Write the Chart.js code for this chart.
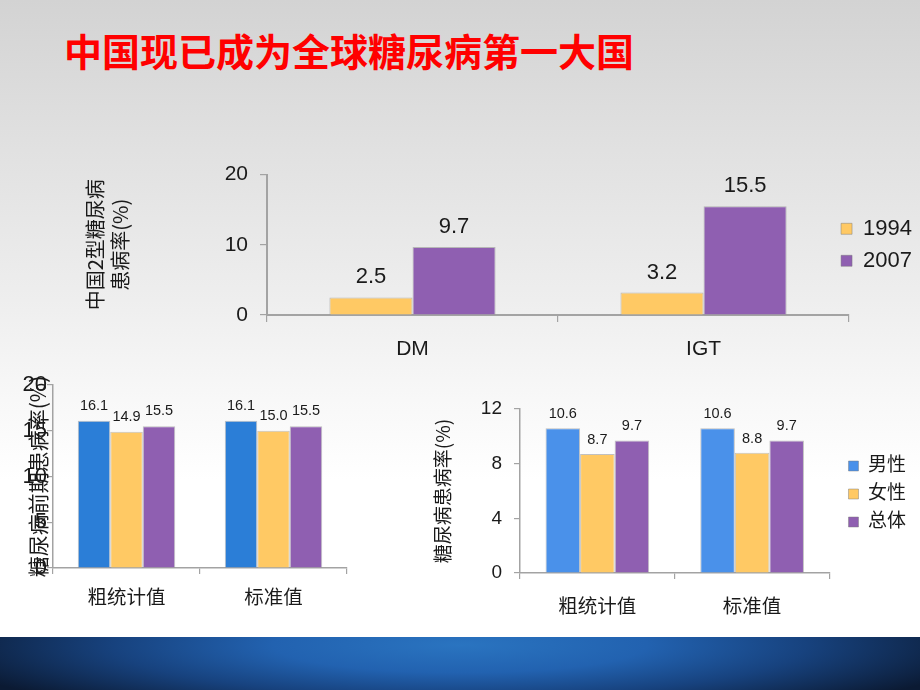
<!DOCTYPE html>
<html>
<head>
<meta charset="utf-8">
<script src="https://cdn.jsdelivr.net/npm/chart.js@4.4.0/dist/chart.umd.min.js"></script>
<style>
html,body{margin:0;padding:0;width:920px;height:690px;overflow:hidden;}
body{position:relative;background:linear-gradient(180deg,#d3d3d3 0px,#e1e1e1 150px,#eeeeee 300px,#f8f8f8 400px,#ffffff 480px,#ffffff 690px);}
#title{position:absolute;left:64px;top:31px;font-family:'Noto Sans CJK SC',sans-serif;font-weight:700;font-size:38px;line-height:38px;color:#ff0000;white-space:nowrap;}
#band{position:absolute;left:0;top:637px;width:920px;height:53px;
 background:radial-gradient(ellipse 58% 150% at 50% 15%,#2a74c0 0%,#2262b0 35%,#17427e 65%,#0b1a33 100%);}
canvas{position:absolute;}
#c1{left:0;top:150px;}
#c2{left:0;top:370px;}
#c3{left:410px;top:370px;}
</style>
</head>
<body>
<div id="title">中国现已成为全球糖尿病第一大国</div>
<canvas id="c1" width="940" height="220"></canvas>
<canvas id="c2" width="410" height="265"></canvas>
<canvas id="c3" width="510" height="265"></canvas>
<div id="band"></div>
<script>
// ---- data ----
const topCategories = ['DM', 'IGT'];
const topSeries = ['1994', '2007'];
const top1994 = [2.5, 3.2];
const top2007 = [9.7, 15.5];
const topYTicks = [0, 10, 20];

const bottomCategories = ['粗统计值', '标准值'];
const bottomSeries = ['男性', '女性', '总体'];
const preMale = [16.1, 16.1];
const preFemale = [14.9, 15.0];
const preTotal = [15.5, 15.5];
const preYTicks = [0, 5, 10, 15, 20];

const dmMale = [10.6, 10.6];
const dmFemale = [8.7, 8.8];
const dmTotal = [9.7, 9.7];
const dmYTicks = [0, 4, 8, 12];

// ---- style ----
const FONT = "'Liberation Sans', 'Noto Sans CJK SC', sans-serif";
const CJK = "'Noto Sans CJK SC', sans-serif";
const AXIS = '#a3a3a3';
const TXT = '#1a1a1a';
const YELLOW = '#FFC964';
const PURPLE = '#8F5FB1';
const BLUE_L = '#2B7ED7';
const BLUE_R = '#4A91EA';
const EDGE = 'rgba(120,120,120,0.45)';

function valueLabels(size, gap) {
  return {
    id: 'valueLabels',
    afterDatasetsDraw(chart) {
      const ctx = chart.ctx;
      ctx.save();
      ctx.font = size + 'px ' + FONT;
      ctx.fillStyle = TXT;
      ctx.textAlign = 'center';
      ctx.textBaseline = 'alphabetic';
      chart.data.datasets.forEach((ds, i) => {
        chart.getDatasetMeta(i).data.forEach((bar, j) => {
          ctx.fillText(Number(ds.data[j]).toFixed(1), bar.x, bar.y - gap);
        });
      });
      ctx.restore();
    }
  };
}
function shiftLegend(dx, dy) {
  return {
    id: 'shiftLegend',
    afterLayout(chart) {
      const l = chart.legend;
      if (l) { l.left += dx; l.right += dx; l.top += dy; l.bottom += dy; }
    }
  };
}
function yAxis(ticksArr, o) {
  return {
    min: ticksArr[0], max: ticksArr[ticksArr.length - 1],
    grid: {drawOnChartArea: false, drawTicks: true, tickLength: o.tl, color: AXIS, lineWidth: 1.2},
    border: {color: AXIS, width: o.bw},
    ticks: {stepSize: ticksArr[1] - ticksArr[0], font: {family: FONT, size: o.fs}, color: TXT, padding: o.pad},
    title: {display: true, text: o.title, color: TXT,
      font: {family: CJK, size: o.tfs, lineHeight: o.tlh}, padding: {top: o.tpad, bottom: 0}},
    afterFit(s) { s.width = o.width; }
  };
}
function xAxis(o) {
  return {
    grid: {offset: true, drawOnChartArea: false, drawTicks: true, tickLength: o.tl, color: AXIS, lineWidth: 1.2},
    border: {color: AXIS, width: o.bw},
    ticks: {font: {family: FONT, size: o.fs}, color: TXT, padding: o.pad, maxRotation: 0},
    afterFit(s) { s.height = o.height; }
  };
}
function ds(label, data, color, pct) {
  return {label, data, backgroundColor: color, borderColor: EDGE, borderWidth: 1,
    categoryPercentage: pct, barPercentage: 1};
}

// ---- top chart ----
new Chart(document.getElementById('c1'), {
  type: 'bar',
  data: {labels: topCategories, datasets: [
    ds(topSeries[0], top1994, YELLOW, 0.571),
    ds(topSeries[1], top2007, PURPLE, 0.571)
  ]},
  options: {
    responsive: false, animation: false,
    layout: {padding: {left: 70, top: 23, right: 0, bottom: 0}},
    plugins: {
      legend: {position: 'right', fullSize: false,
        labels: {font: {family: FONT, size: 22}, color: TXT, boxWidth: 11, boxHeight: 11, padding: 10}},
      tooltip: {enabled: false}
    },
    scales: {
      x: xAxis({tl: 7, bw: 2, fs: 21, pad: 15, height: 55}),
      y: yAxis(topYTicks, {tl: 7, bw: 2, fs: 21, pad: 12, title: ['中国2型糖尿病', '患病率(%)'],
        tfs: 20, tlh: 1.25, tpad: 13, width: 197})
    }
  },
  plugins: [valueLabels(22, 14), shiftLegend(-18, 0)]
});

// ---- bottom-left chart ----
new Chart(document.getElementById('c2'), {
  type: 'bar',
  data: {labels: bottomCategories, datasets: [
    ds(bottomSeries[0], preMale, BLUE_L, 0.663),
    ds(bottomSeries[1], preFemale, YELLOW, 0.663),
    ds(bottomSeries[2], preTotal, PURPLE, 0.663)
  ]},
  options: {
    responsive: false, animation: false,
    layout: {padding: {left: 0, top: 15, right: 63, bottom: 0}},
    plugins: {legend: {display: false}, tooltip: {enabled: false}},
    scales: {
      x: xAxis({tl: 6, bw: 1.5, fs: 19.5, pad: 13, height: 67}),
      y: yAxis(preYTicks, {tl: 6, bw: 1.5, fs: 22, pad: 0, title: '糖尿病前期患病率(%)',
        tfs: 21, tlh: 1.2, tpad: 25, width: 53})
    }
  },
  plugins: [valueLabels(14.5, 11)]
});

// ---- bottom-right chart ----
new Chart(document.getElementById('c3'), {
  type: 'bar',
  data: {labels: bottomCategories, datasets: [
    ds(bottomSeries[0], dmMale, BLUE_R, 0.67),
    ds(bottomSeries[1], dmFemale, YELLOW, 0.67),
    ds(bottomSeries[2], dmTotal, PURPLE, 0.67)
  ]},
  options: {
    responsive: false, animation: false,
    layout: {padding: {left: 0, top: 39, right: 14, bottom: 0}},
    plugins: {
      legend: {position: 'right', fullSize: false,
        labels: {font: {family: FONT, size: 19}, color: TXT, boxWidth: 10, boxHeight: 10, padding: 9}},
      tooltip: {enabled: false}
    },
    scales: {
      x: xAxis({tl: 6, bw: 1.5, fs: 19.5, pad: 17, height: 62}),
      y: yAxis(dmYTicks, {tl: 6, bw: 1.5, fs: 19, pad: 12, title: '糖尿病患病率(%)',
        tfs: 19, tlh: 1.2, tpad: 21, width: 110})
    }
  },
  plugins: [valueLabels(14.5, 10), shiftLegend(10, 3)]
});
</script>
</body>
</html>
